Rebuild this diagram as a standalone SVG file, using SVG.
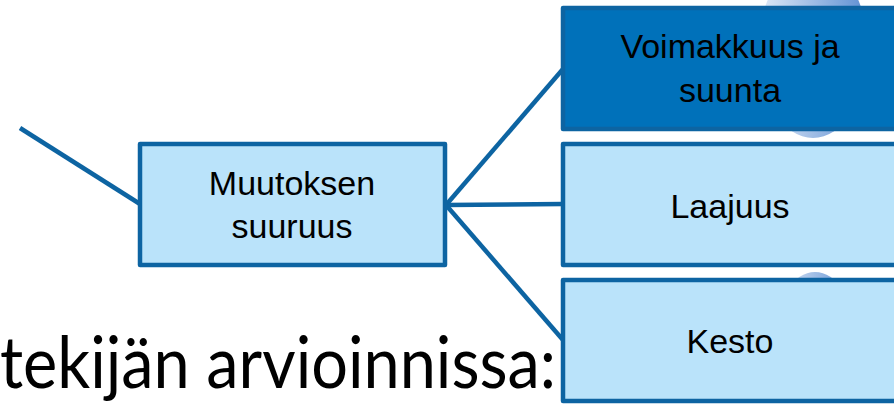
<svg xmlns="http://www.w3.org/2000/svg" width="894" height="404" viewBox="0 0 894 404">
<defs>
<style>
.box{stroke:#0D64A2;stroke-width:4.5;stroke-linejoin:round}
.light{fill:#BAE3FA}
.dark{fill:#0071BA}
.lbl{font-family:"Liberation Sans",Arial,sans-serif;font-size:34px;fill:#000;text-anchor:middle}
.con{stroke:#0D64A2;stroke-width:4.5;fill:none}
</style>
<linearGradient id="blob" x1="0" y1="0" x2="1" y2="0">
<stop offset="0" stop-color="#E4ECF8"/>
<stop offset="1" stop-color="#5C8ED2"/>
</linearGradient>
</defs>
<rect width="894" height="404" fill="#fff"/>
<g id="background">
<ellipse cx="813" cy="50" rx="55" ry="88" fill="url(#blob)"/>
<ellipse cx="815" cy="335" rx="40" ry="63" fill="url(#blob)"/>
</g>
<text x="0" y="388" font-family="Lato,'Open Sans','Liberation Sans',sans-serif" font-size="72" textLength="556" lengthAdjust="spacingAndGlyphs" fill="#000">tekijän arvioinnissa:</text>
<g id="connectors">
<line class="con" x1="20" y1="128" x2="140" y2="204"/>
<line class="con" x1="446" y1="205" x2="563" y2="69"/>
<line class="con" x1="446" y1="205" x2="563" y2="204"/>
<line class="con" x1="446" y1="205" x2="563" y2="340"/>
</g>
<g id="muutoksen">
<rect class="box light" x="140" y="144" width="305" height="121"/>
<text class="lbl" x="292" y="195">Muutoksen</text>
<text class="lbl" x="292" y="238">suuruus</text>
</g>
<g id="voimakkuus">
<rect class="box dark" x="563" y="8" width="338" height="121"/>
<text class="lbl" x="730" y="58">Voimakkuus ja</text>
<text class="lbl" x="730" y="102">suunta</text>
</g>
<g id="laajuus">
<rect class="box light" x="563" y="144" width="338" height="121"/>
<text class="lbl" x="730" y="218">Laajuus</text>
</g>
<g id="kesto">
<rect class="box light" x="563" y="280" width="338" height="121"/>
<text class="lbl" x="730" y="353">Kesto</text>
</g>
</svg>
